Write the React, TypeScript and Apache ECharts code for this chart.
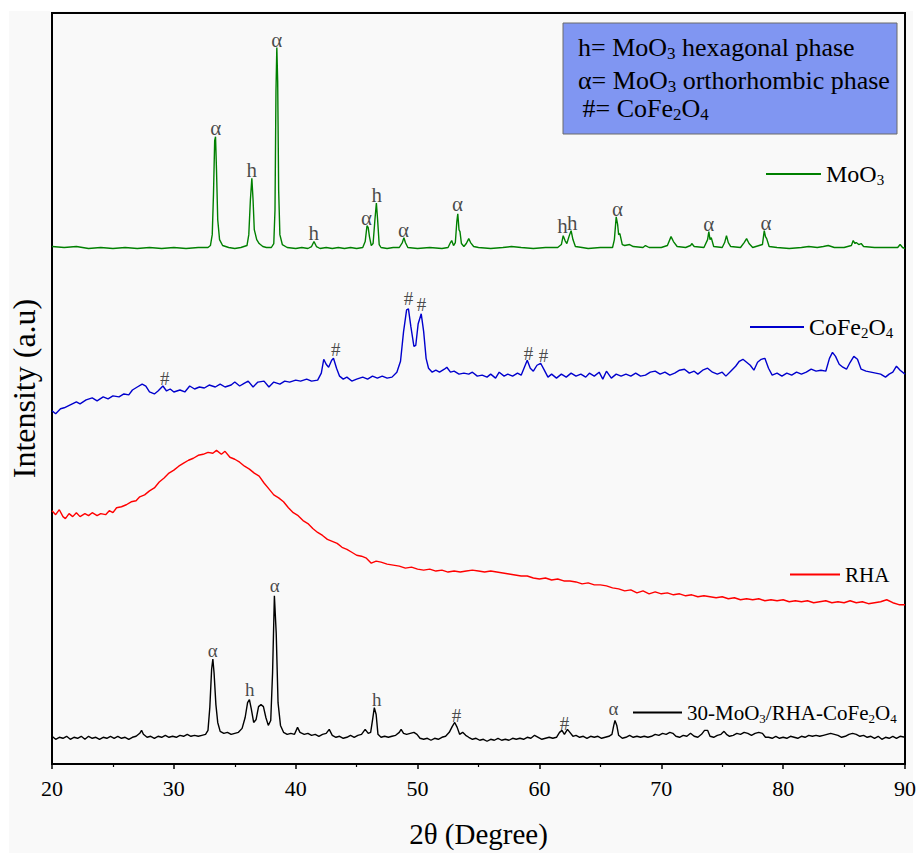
import React, { useEffect, useRef } from "react";
import * as echarts from "echarts";

// ---- data (2θ in degrees, intensity in arbitrary offset units) ----
const moo3: [number, number][] = [
  [20.0, 523], [21.0, 522], [22.0, 523], [23.0, 521], [24.0, 522], [25.0, 521], [26.0, 522], [27.0, 521], [28.0, 522],
  [29.0, 521], [30.0, 522], [31.0, 521], [32.0, 522], [32.8, 522], [33.0, 524], [33.15, 535], [33.25, 575], [33.35, 630],
  [33.42, 634], [33.5, 600], [33.6, 550], [33.75, 530], [34.0, 524], [34.5, 522], [35.0, 521], [35.5, 522], [36.0, 524],
  [36.15, 535], [36.28, 570], [36.4, 592], [36.5, 570], [36.6, 540], [36.8, 530], [37.0, 526], [37.3, 523], [37.6, 522],
  [38.0, 522], [38.2, 526], [38.3, 560], [38.38, 680], [38.45, 724], [38.52, 690], [38.6, 580], [38.7, 535], [38.9, 525],
  [39.3, 522], [40.0, 521], [40.5, 522], [41.0, 521], [41.3, 523], [41.5, 528], [41.7, 523], [42.0, 521], [42.5, 522],
  [43.0, 521], [43.5, 522], [44.0, 521], [44.5, 522], [45.0, 521], [45.5, 522], [45.7, 528], [45.85, 544], [45.95, 542],
  [46.05, 533], [46.2, 524], [46.35, 526], [46.5, 550], [46.62, 567], [46.72, 550], [46.85, 525], [47.0, 522], [47.5, 521],
  [48.0, 522], [48.5, 522], [48.75, 527], [48.88, 532], [49.0, 527], [49.2, 522], [50.0, 521], [51.0, 522], [52.0, 521],
  [52.5, 522], [52.7, 527], [52.8, 529], [52.95, 524], [53.1, 527], [53.22, 548], [53.3, 556], [53.4, 540], [53.48, 538],
  [53.6, 526], [53.8, 523], [54.0, 526], [54.2, 531], [54.35, 527], [54.6, 523], [55.0, 522], [56.0, 521], [57.0, 522],
  [57.7, 523], [58.5, 522], [59.5, 521], [60.5, 522], [61.5, 522], [61.8, 525], [61.95, 534], [62.1, 529], [62.25, 526],
  [62.45, 534], [62.6, 539], [62.75, 530], [62.95, 523], [63.5, 522], [64.0, 521], [65.0, 522], [66.0, 522], [66.15, 530],
  [66.3, 553], [66.42, 545], [66.5, 535], [66.6, 536], [66.8, 525], [67.0, 524], [67.4, 525], [67.7, 523], [68.5, 522],
  [68.7, 524], [69.0, 522], [70.0, 522], [70.5, 524], [70.8, 533], [71.0, 528], [71.3, 523], [72.0, 522], [72.4, 524],
  [72.5, 526], [72.7, 523], [73.5, 522], [73.8, 530], [73.9, 538], [74.0, 530], [74.1, 532], [74.3, 523], [75.0, 522],
  [75.2, 527], [75.35, 534], [75.5, 527], [75.7, 523], [76.5, 522], [76.8, 527], [77.0, 531], [77.2, 526], [77.5, 522],
  [78.3, 525], [78.45, 539], [78.55, 533], [78.65, 531], [78.85, 523], [79.5, 522], [80.5, 521], [81.5, 522], [82.1, 523],
  [82.8, 522], [83.3, 523], [83.7, 524], [84.2, 522], [85.0, 522], [85.6, 524], [85.75, 529], [85.9, 526], [86.0, 527],
  [86.2, 525], [86.4, 526], [86.6, 523], [87.5, 522], [88.5, 522], [89.4, 522], [89.6, 525], [89.8, 522], [90.0, 521],
];

const cofe2o4: [number, number][] = [
  [20.0, 357], [20.3, 354], [20.7, 359], [21.0, 360], [21.5, 363], [22.0, 366], [22.3, 364], [22.8, 368], [23.3, 370],
  [23.7, 367], [24.2, 371], [24.6, 369], [25.0, 372], [25.5, 371], [25.9, 374], [26.3, 373], [26.6, 378], [27.0, 381],
  [27.4, 384], [27.7, 382], [28.0, 376], [28.4, 374], [28.7, 377], [29.1, 382], [29.4, 377], [29.7, 379], [30.0, 376],
  [30.5, 378], [30.9, 376], [31.3, 382], [31.7, 379], [32.1, 381], [32.5, 380], [32.9, 383], [33.4, 381], [33.8, 384],
  [34.2, 381], [34.7, 383], [35.0, 386], [35.4, 382], [35.8, 385], [36.1, 387], [36.5, 381], [36.9, 386], [37.4, 387],
  [37.8, 381], [38.2, 386], [38.7, 384], [39.1, 387], [39.5, 386], [40.0, 388], [40.4, 387], [40.9, 389], [41.3, 387],
  [41.8, 388], [42.1, 395], [42.3, 409], [42.5, 404], [42.7, 401], [42.95, 408], [43.1, 410], [43.35, 400], [43.6, 392],
  [43.9, 389], [44.2, 391], [44.6, 387], [45.0, 389], [45.5, 391], [45.9, 389], [46.3, 392], [46.7, 390], [47.1, 392],
  [47.5, 390], [47.9, 391], [48.3, 396], [48.6, 407], [48.85, 437], [49.1, 459], [49.25, 460], [49.45, 442], [49.7, 422],
  [49.85, 423], [50.05, 445], [50.3, 455], [50.5, 437], [50.7, 410], [50.9, 400], [51.2, 396], [51.5, 398], [51.8, 396],
  [52.2, 399], [52.4, 401], [52.7, 396], [53.0, 397], [53.4, 394], [53.8, 395], [54.2, 394], [54.5, 396], [54.9, 392],
  [55.3, 393], [55.7, 391], [56.0, 394], [56.4, 390], [56.7, 396], [57.1, 392], [57.4, 394], [57.8, 392], [58.2, 395],
  [58.5, 393], [58.8, 402], [59.0, 408], [59.25, 400], [59.5, 397], [59.8, 403], [60.1, 405], [60.4, 398], [60.7, 391],
  [61.0, 394], [61.4, 390], [61.8, 394], [62.2, 391], [62.6, 395], [63.0, 392], [63.4, 394], [63.8, 391], [64.1, 395],
  [64.5, 392], [64.9, 396], [65.2, 389], [65.5, 397], [65.9, 390], [66.3, 394], [66.7, 392], [67.1, 394], [67.5, 392],
  [67.9, 395], [68.3, 392], [68.7, 393], [69.1, 396], [69.5, 397], [69.9, 394], [70.3, 396], [70.7, 393], [71.1, 395],
  [71.5, 398], [71.9, 399], [72.3, 395], [72.7, 397], [73.0, 394], [73.4, 398], [73.8, 400], [74.2, 396], [74.6, 394],
  [75.0, 396], [75.3, 392], [75.7, 397], [76.1, 402], [76.4, 407], [76.7, 409], [77.0, 406], [77.3, 403], [77.6, 398],
  [77.9, 406], [78.2, 409], [78.5, 410], [78.8, 400], [79.1, 393], [79.5, 395], [79.9, 392], [80.3, 395], [80.7, 393],
  [81.1, 396], [81.5, 394], [81.9, 396], [82.3, 399], [82.7, 397], [83.1, 398], [83.5, 397], [83.8, 410], [84.05, 416],
  [84.3, 412], [84.6, 404], [84.9, 401], [85.2, 399], [85.5, 406], [85.8, 412], [86.1, 409], [86.4, 399], [86.8, 397],
  [87.2, 396], [87.6, 395], [88.0, 394], [88.4, 391], [88.7, 394], [89.0, 396], [89.3, 402], [89.6, 398], [90.0, 394],
];

const rha: [number, number][] = [
  [20.0, 256], [20.3, 252], [20.6, 257], [20.9, 250], [21.1, 248], [21.4, 253], [21.7, 250], [22.0, 254], [22.3, 250],
  [22.7, 253], [23.0, 251], [23.3, 254], [23.7, 251], [24.0, 253], [24.4, 252], [24.7, 256], [25.0, 254], [25.3, 259],
  [25.7, 260], [26.1, 262], [26.5, 265], [26.9, 266], [27.2, 270], [27.6, 272], [28.0, 276], [28.4, 279], [28.8, 285],
  [29.2, 289], [29.6, 294], [30.0, 297], [30.4, 301], [30.8, 304], [31.2, 307], [31.6, 309], [32.0, 312], [32.4, 313],
  [32.8, 315], [33.2, 314], [33.5, 317], [33.9, 313], [34.2, 316], [34.6, 310], [35.0, 308], [35.4, 305], [35.8, 301],
  [36.2, 298], [36.6, 294], [37.0, 291], [37.4, 284], [37.8, 278], [38.2, 272], [38.6, 269], [39.0, 265], [39.4, 259],
  [39.8, 254], [40.2, 251], [40.6, 246], [41.0, 243], [41.4, 238], [41.8, 234], [42.2, 231], [42.6, 227], [43.0, 225],
  [43.4, 223], [43.8, 219], [44.2, 217], [44.6, 214], [45.0, 211], [45.4, 210], [45.8, 208], [46.2, 203], [46.6, 205],
  [47.0, 204], [47.5, 202], [48.0, 201], [48.5, 200], [49.0, 198], [49.5, 199], [50.0, 197], [50.5, 196], [51.0, 197],
  [51.5, 195], [52.0, 196], [52.5, 194], [53.0, 195], [53.5, 194], [54.0, 195], [54.5, 196], [55.0, 195], [55.5, 194],
  [56.0, 195], [56.5, 194], [57.0, 193], [57.5, 192], [58.0, 191], [58.5, 190], [59.0, 190], [59.5, 188], [60.0, 187],
  [60.5, 188], [61.0, 186], [61.5, 187], [62.0, 185], [62.5, 185], [63.0, 184], [63.5, 182], [64.0, 183], [64.5, 181],
  [65.0, 181], [65.5, 180], [66.0, 178], [66.5, 177], [67.0, 175], [67.5, 176], [68.0, 173], [68.5, 175], [69.0, 172],
  [69.5, 174], [70.0, 172], [70.5, 173], [71.0, 171], [71.5, 172], [72.0, 170], [72.5, 171], [73.0, 169], [73.5, 170],
  [74.0, 169], [74.5, 168], [75.0, 169], [75.5, 167], [76.0, 168], [76.5, 166], [77.0, 167], [77.5, 166], [78.0, 167],
  [78.5, 165], [79.0, 166], [79.5, 165], [80.0, 166], [80.5, 164], [81.0, 165], [81.5, 164], [82.0, 165], [82.5, 163],
  [83.0, 164], [83.5, 165], [84.0, 163], [84.5, 164], [85.0, 163], [85.5, 165], [86.0, 163], [86.5, 164], [87.0, 162],
  [87.5, 163], [88.0, 164], [88.5, 166], [89.0, 163], [89.5, 161], [90.0, 161],
];

const composite: [number, number][] = [
  [20.0, 28], [20.3, 25], [20.6, 27], [20.9, 26], [21.2, 28], [21.5, 25], [21.8, 27], [22.1, 26], [22.4, 28], [22.7, 25],
  [23.0, 28], [23.3, 26], [23.6, 27], [23.9, 25], [24.2, 27], [24.5, 26], [24.8, 28], [25.1, 26], [25.4, 28], [25.7, 26],
  [26.0, 27], [26.3, 25], [26.6, 27], [26.9, 28], [27.2, 31], [27.35, 34], [27.5, 30], [27.8, 27], [28.1, 28], [28.4, 26],
  [28.7, 28], [29.0, 27], [29.3, 29], [29.6, 27], [29.9, 28], [30.2, 27], [30.5, 29], [30.8, 28], [31.1, 30], [31.4, 28],
  [31.7, 29], [32.0, 28], [32.3, 29], [32.6, 30], [32.8, 34], [32.95, 57], [33.1, 96], [33.2, 106], [33.3, 92], [33.45, 60],
  [33.6, 42], [33.8, 33], [34.1, 31], [34.4, 32], [34.7, 30], [35.0, 31], [35.3, 32], [35.6, 36], [35.85, 47], [36.05, 62],
  [36.2, 65], [36.35, 56], [36.55, 42], [36.75, 45], [36.95, 58], [37.15, 60], [37.35, 58], [37.55, 47], [37.75, 39],
  [37.95, 44], [38.1, 92], [38.25, 170], [38.4, 132], [38.55, 62], [38.75, 39], [39.0, 32], [39.3, 30], [39.6, 31],
  [39.9, 30], [40.15, 37], [40.35, 32], [40.7, 30], [41.0, 31], [41.3, 29], [41.6, 30], [41.9, 28], [42.2, 30], [42.5, 31],
  [42.75, 35], [43.0, 29], [43.3, 27], [43.6, 28], [43.9, 26], [44.2, 27], [44.5, 29], [44.8, 27], [45.1, 29], [45.4, 30],
  [45.7, 35], [45.95, 31], [46.15, 32], [46.3, 44], [46.45, 57], [46.6, 50], [46.75, 30], [47.0, 27], [47.3, 28], [47.6, 27],
  [47.9, 28], [48.2, 29], [48.5, 32], [48.65, 35], [48.85, 31], [49.1, 30], [49.4, 31], [49.7, 32], [49.95, 30], [50.2, 26],
  [50.5, 25], [50.8, 26], [51.1, 24], [51.4, 26], [51.7, 25], [52.0, 27], [52.3, 28], [52.6, 32], [52.85, 38], [53.05, 42],
  [53.25, 37], [53.45, 30], [53.7, 32], [53.95, 29], [54.2, 27], [54.5, 25], [54.8, 26], [55.1, 24], [55.4, 25], [55.7, 23],
  [56.0, 25], [56.3, 24], [56.6, 26], [56.9, 24], [57.2, 25], [57.5, 24], [57.8, 26], [58.1, 25], [58.4, 26], [58.7, 25],
  [59.0, 27], [59.3, 26], [59.6, 29], [59.9, 27], [60.2, 25], [60.5, 26], [60.8, 27], [61.1, 26], [61.4, 27], [61.65, 32],
  [61.85, 34], [62.05, 30], [62.3, 35], [62.5, 32], [62.75, 28], [63.0, 29], [63.3, 27], [63.6, 28], [63.9, 26], [64.2, 28],
  [64.5, 27], [64.8, 28], [65.1, 26], [65.4, 27], [65.7, 28], [65.95, 30], [66.1, 39], [66.2, 44], [66.35, 39], [66.5, 29],
  [66.8, 26], [67.1, 27], [67.4, 29], [67.7, 27], [68.0, 28], [68.3, 27], [68.6, 28], [68.9, 27], [69.2, 28], [69.5, 30],
  [69.8, 29], [70.1, 31], [70.4, 30], [70.7, 32], [70.95, 31], [71.2, 28], [71.5, 27], [71.8, 29], [72.1, 28], [72.4, 31],
  [72.7, 28], [73.0, 27], [73.3, 30], [73.55, 34], [73.8, 34], [74.0, 28], [74.3, 27], [74.6, 29], [74.9, 30], [75.15, 33],
  [75.35, 30], [75.6, 28], [75.9, 29], [76.2, 31], [76.5, 30], [76.8, 32], [77.1, 31], [77.4, 29], [77.7, 31], [78.0, 32],
  [78.3, 31], [78.55, 27], [78.8, 27], [79.1, 26], [79.4, 28], [79.7, 26], [80.0, 27], [80.3, 26], [80.6, 28], [80.9, 27],
  [81.2, 26], [81.5, 28], [81.8, 27], [82.1, 29], [82.4, 28], [82.7, 29], [83.0, 28], [83.3, 29], [83.6, 30], [83.9, 31],
  [84.2, 30], [84.5, 29], [84.8, 27], [85.1, 28], [85.4, 30], [85.7, 31], [86.0, 30], [86.3, 28], [86.6, 29], [86.9, 27],
  [87.2, 28], [87.5, 26], [87.8, 28], [88.1, 25], [88.4, 27], [88.7, 26], [89.0, 28], [89.3, 26], [89.6, 28], [90.0, 27],
];

// peak marks: [2θ, height of mark centre, symbol]
const moo3Marks: [number, number, string][] = [
  [33.44, 643, "α"], [36.4, 600, "h"], [38.45, 732, "α"], [41.48, 537, "h"], [45.8, 552, "α"], [46.64, 575, "h"],
  [48.85, 540, "α"], [53.28, 566, "α"], [61.9, 544, "h"], [62.7, 547, "h"], [66.4, 561, "α"], [73.9, 546, "α"], [78.6, 547, "α"],
];
const cofeMarks: [number, number, string][] = [
  [29.26, 390, "#"], [43.28, 419, "#"], [49.26, 470, "#"], [50.33, 464, "#"], [59.1, 415, "#"], [60.33, 413, "#"],
];
const compMarks: [number, number, string][] = [
  [33.2, 115, "α"], [36.23, 75, "h"], [38.28, 180, "α"], [46.64, 65, "h"], [53.2, 49, "#"], [62.05, 41, "#"], [66.07, 56, "α"],
];

const xTicks = [20, 90, 10];
const seriesNames = ["MoO3", "CoFe2O4", "RHA", "30-MoO3/RHA-CoFe2O4"];
const seriesColors = ["#008000", "#0000cd", "#ff0000", "#000000"];
const richNames: Record<string, string> = {
  MoO3: "MoO{s|3}",
  CoFe2O4: "CoFe{s|2}O{s|4}",
  RHA: "RHA",
  "30-MoO3/RHA-CoFe2O4": "30-MoO{s|3}/RHA-CoFe{s|2}O{s|4}",
};
const keyLines = [
  "h= MoO{s|3} hexagonal phase",
  "α= MoO{s|3} orthorhombic phase",
  " #= CoFe{s|2}O{s|4}",
];

const FONT = "'Liberation Serif', 'Times New Roman', serif";

export default function App() {
  const ref = useRef<HTMLDivElement>(null);
  useEffect(() => {
    if (!ref.current) return;
    const chart = echarts.init(ref.current, null, { renderer: "svg" });
    const allData = [moo3, cofe2o4, rha, composite];

    const markSeries = (name: string, marks: [number, number, string][], size: number) => ({
      name,
      type: "scatter",
      silent: true,
      symbolSize: 0,
      data: marks.map((m) => ({ name: m[2], value: [m[0], m[1]] })),
      label: {
        show: true,
        position: "inside",
        formatter: "{b}",
        fontFamily: FONT,
        fontSize: size,
        color: "#1a1a1a",
      },
      z: 5,
    });

    const legendPos = [
      { left: 766, top: 162, w: 55, fs: 24 },
      { left: 750, top: 315, w: 54, fs: 24 },
      { left: 790, top: 564, w: 50, fs: 21 },
      { left: 633, top: 702, w: 49, fs: 21 },
    ];

    const option: any = {
      animation: false,
      backgroundColor: "#ffffff",
      grid: {
        left: 52,
        right: 13,
        top: 13,
        bottom: 81,
        show: true,
        borderColor: "#000",
        borderWidth: 2,
        backgroundColor: "transparent",
      },
      xAxis: {
        type: "value",
        min: xTicks[0],
        max: xTicks[1],
        interval: xTicks[2],
        name: "2θ (Degree)",
        nameLocation: "middle",
        nameGap: 55,
        nameTextStyle: { fontFamily: FONT, fontSize: 29, color: "#000" },
        axisLine: { show: true, lineStyle: { color: "#000", width: 2 } },
        axisTick: { show: true, inside: false, length: 5, lineStyle: { color: "#000", width: 1.5 } },
        minorTick: { show: true, splitNumber: 2, length: 3, lineStyle: { color: "#000", width: 1.2 } },
        axisLabel: { fontFamily: FONT, fontSize: 22, color: "#000", margin: 13 },
        splitLine: { show: false },
      },
      yAxis: {
        type: "value",
        min: 0,
        max: 759,
        name: "Intensity (a.u)",
        nameLocation: "middle",
        nameRotate: 90,
        nameGap: 12,
        nameTextStyle: { fontFamily: FONT, fontSize: 32, color: "#000" },
        axisLine: { show: true, lineStyle: { color: "#000", width: 2 } },
        axisTick: { show: false },
        axisLabel: { show: false },
        splitLine: { show: false },
      },
      legend: seriesNames.map((n, i) => ({
        data: [n],
        left: legendPos[i].left,
        top: legendPos[i].top,
        padding: 0,
        icon: "rect",
        itemWidth: legendPos[i].w,
        itemHeight: 2,
        selectedMode: false,
        formatter: (name: string) => richNames[name],
        textStyle: {
          fontFamily: FONT,
          fontSize: legendPos[i].fs,
          color: "#000",
          rich: {
            s: { fontFamily: FONT, fontSize: Math.round(legendPos[i].fs * 0.62), color: "#000", padding: [12, 0, 0, 0] },
          },
        },
      })),
      series: [
        ...seriesNames.map((n, i) => ({
          name: n,
          type: "line",
          data: allData[i],
          showSymbol: false,
          symbol: "none",
          lineStyle: { color: seriesColors[i], width: 1.4 },
          itemStyle: { color: seriesColors[i] },
          z: 3,
        })),
        markSeries("moo3-marks", moo3Marks, 21),
        markSeries("cofe-marks", cofeMarks, 19),
        markSeries("comp-marks", compMarks, 19),
      ],
      graphic: [
        {
          type: "rect",
          z: -10,
          silent: true,
          shape: { x: 9, y: 11, width: 904, height: 842 },
          style: { fill: "#f9f9f9" },
        },
        {
          type: "group",
          z: 100,
          children: [
            {
              type: "rect",
              shape: { x: 563, y: 23, width: 334, height: 111 },
              style: { fill: "#8096f2", stroke: "#6a6a6a", lineWidth: 1 },
            },
            ...keyLines.map((t, i) => ({
              type: "text",
              x: i === 2 ? 576 : 578,
              y: [47, 80, 108][i],
              style: {
                text: t,
                fontFamily: FONT,
                fontSize: 26,
                fill: "#000",
                verticalAlign: "middle",
                rich: { s: { fontFamily: FONT, fontSize: 17, fill: "#000", padding: [12, 0, 0, 0] } },
              },
            })),
          ],
        },
      ],
    };
    chart.setOption(option);
    return () => chart.dispose();
  }, []);
  return (
    <div
      ref={ref}
      style={{ position: "absolute", left: 0, top: 0, width: 919, height: 853 }}
    />
  );
}
